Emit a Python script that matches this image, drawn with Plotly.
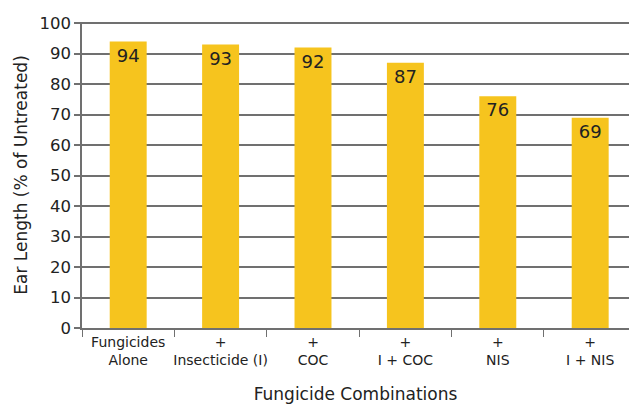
import plotly.graph_objects as go

categories = [
    "Fungicides<br>Alone",
    "+<br>Insecticide (I)",
    "+<br>COC",
    "+<br>I + COC",
    "+<br>NIS",
    "+<br>I + NIS",
]
ear_length = [94, 93, 92, 87, 76, 69]
y_ticks = list(range(0, 101, 10))

FONT = "DejaVu Sans, Verdana, sans-serif"
GRID = "#707070"

fig = go.Figure(
    go.Bar(
        x=categories,
        y=ear_length,
        width=0.4,
        marker=dict(color="#F6C41E", line=dict(width=0)),
        text=[str(v) for v in ear_length],
        textposition="inside",
        insidetextanchor="end",
        textangle=0,
        textfont=dict(family=FONT, size=18, color="#222222"),
    )
)

fig.update_layout(
    width=629,
    height=404,
    margin=dict(l=82, r=0, t=22, b=76),
    paper_bgcolor="white",
    plot_bgcolor="white",
    showlegend=False,
    font=dict(family=FONT, color="#222222"),
    uniformtext=dict(mode="show", minsize=18),
)

fig.update_xaxes(
    type="category",
    range=[-0.5, 5.42],
    automargin=False,
    showline=True,
    linecolor=GRID,
    linewidth=1.5,
    ticks="outside",
    tickson="boundaries",
    ticklen=7,
    tickcolor=GRID,
    tickwidth=1.2,
    tickangle=0,
    tickfont=dict(family=FONT, size=14, color="#222222"),
    showgrid=False,
    title=dict(
        text="Fungicide Combinations",
        font=dict(family=FONT, size=17, color="#222222"),
        standoff=22,
    ),
)

fig.update_yaxes(
    range=[0, 100.4],
    automargin=False,
    tickvals=y_ticks,
    showline=True,
    linecolor=GRID,
    linewidth=1.5,
    ticks="outside",
    ticklen=6,
    tickcolor=GRID,
    tickwidth=1.5,
    showgrid=True,
    gridcolor=GRID,
    gridwidth=1.7,
    zeroline=False,
    tickfont=dict(family=FONT, size=16.5, color="#222222"),
    title=dict(
        text="Ear Length (% of Untreated)",
        font=dict(family=FONT, size=17, color="#222222"),
        standoff=8,
    ),
)

fig.write_html("out.html")
